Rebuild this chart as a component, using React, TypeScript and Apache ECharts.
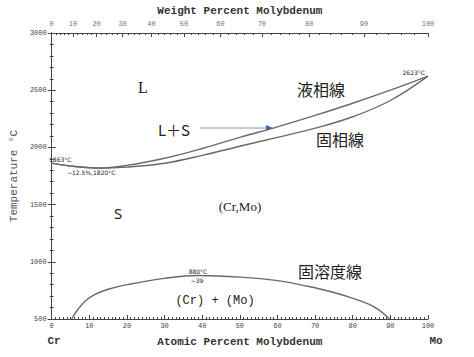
import React, { useEffect, useRef } from "react";
import * as echarts from "echarts";

// Atomic percent Mo vs temperature (°C)
const liquidus: [number, number][] = [
  [0, 1863], [5, 1838], [10, 1823], [12.5, 1820], [20, 1843], [30, 1905],
  [40, 1990], [50, 2088], [60, 2180], [70, 2280], [80, 2386], [90, 2500], [100, 2623],
];
const solidus: [number, number][] = [
  [0, 1863], [5, 1836], [10, 1822], [12.5, 1819], [20, 1828], [30, 1862],
  [40, 1930], [50, 2010], [60, 2088], [70, 2168], [80, 2268], [90, 2410], [100, 2623],
];
const solvus: [number, number][] = [
  [5.3, 500], [7, 585], [9, 660], [11.4, 713], [15, 760], [20, 800], [30, 855],
  [39, 880], [50, 866], [60, 835], [68, 786], [75, 732], [81, 670], [86, 600], [89.8, 500],
];

const weightTicks = [0, 10, 20, 30, 40, 50, 60, 70, 80, 90, 100];
const atomicTicks = [0, 10, 20, 30, 40, 50, 60, 70, 80, 90, 100];
const tempTicks = [500, 1000, 1500, 2000, 2500, 3000];

const M_MO = 95.95;
const M_CR = 52.0;
const wtToAt = (w: number) => {
  if (w <= 0) return 0;
  if (w >= 100) return 100;
  const mo = w / M_MO;
  const cr = (100 - w) / M_CR;
  return (mo / (mo + cr)) * 100;
};

export default function App() {
  const ref = useRef<HTMLDivElement>(null);
  useEffect(() => {
    if (!ref.current) return;
    const chart = echarts.init(ref.current, undefined, { renderer: "svg" });
    const topPos = weightTicks.map(wtToAt);
    const minorWt: number[] = [];
    for (let w = 0; w <= 100; w += 2) minorWt.push(w);
    const minorPos = minorWt.map(wtToAt);
    const axisColor = "#444";
    const mono = "Liberation Mono";
    const tickLabel = { color: "#444", fontSize: 7, fontFamily: mono };
    const nameStyle = { color: "#333", fontSize: 11, fontFamily: mono, fontWeight: "bold" };
    const lineStyle = { color: "#6a6a6a", width: 1.4 };
    const txt = (x: number, y: number, text: string, font: string, size: number, align = "center", weight = "normal", fill = "#222") => ({
      type: "text",
      x,
      y,
      style: { text, fontFamily: font, fontSize: size, fontWeight: weight, fill, align, verticalAlign: "middle" },
    });
    chart.setOption({
      animation: false,
      backgroundColor: "#fff",
      grid: { left: 47, right: 46, top: 33, bottom: 38 },
      xAxis: [
        {
          type: "value", min: 0, max: 100, interval: 10, position: "bottom",
          name: "Atomic Percent Molybdenum", nameLocation: "middle", nameGap: 17, nameTextStyle: nameStyle,
          axisLine: { show: true, lineStyle: { color: axisColor, width: 1 } },
          axisTick: { show: true, inside: true, length: 4, lineStyle: { color: axisColor } },
          minorTick: { show: true, splitNumber: 10, length: 2, lineStyle: { color: axisColor } },
          axisLabel: { ...tickLabel, margin: 3, formatter: (v: number) => (atomicTicks.includes(v) ? String(v) : "") },
          splitLine: { show: false },
        },
        {
          type: "value", min: 0, max: 100, position: "top",
          name: "Weight Percent Molybdenum", nameLocation: "middle", nameGap: 17, nameTextStyle: nameStyle,
          axisLine: { show: true, lineStyle: { color: axisColor, width: 1 } },
          axisTick: { show: true, inside: true, length: 4, customValues: topPos, lineStyle: { color: axisColor } },
          axisLabel: { show: false },
          splitLine: { show: false },
        },
        {
          type: "value", min: 0, max: 100, position: "top",
          axisLine: { show: false },
          axisTick: { show: true, inside: true, length: 2, customValues: minorPos, lineStyle: { color: axisColor } },
          axisLabel: { show: false },
          splitLine: { show: false },
        },
      ],
      yAxis: [
        {
          type: "value", min: 500, max: 3000, interval: 500, position: "left",
          name: "Temperature °C", nameLocation: "middle", nameGap: 31,
          nameTextStyle: { color: "#555", fontSize: 11, fontFamily: mono },
          axisLine: { show: true, lineStyle: { color: axisColor, width: 1 } },
          axisTick: { show: true, inside: true, length: 4, lineStyle: { color: axisColor } },
          minorTick: { show: true, splitNumber: 5, length: 2, lineStyle: { color: axisColor } },
          axisLabel: { ...tickLabel, margin: 5, formatter: (v: number) => (tempTicks.includes(v) ? String(v) : "") },
          splitLine: { show: false },
        },
        {
          type: "value", min: 500, max: 3000, interval: 500, position: "right",
          axisLine: { show: true, lineStyle: { color: axisColor, width: 1 } },
          axisTick: { show: true, inside: true, length: 4, lineStyle: { color: axisColor } },
          minorTick: { show: true, splitNumber: 5, length: 2, lineStyle: { color: axisColor } },
          axisLabel: { show: false },
          splitLine: { show: false },
        },
      ],
      series: [
        { name: "液相線", type: "line", data: liquidus, smooth: 0.4, showSymbol: false, lineStyle, silent: true },
        { name: "固相線", type: "line", data: solidus, smooth: 0.4, showSymbol: false, lineStyle, silent: true },
        { name: "固溶度線", type: "line", data: solvus, smooth: 0.4, showSymbol: false, lineStyle, silent: true },
        {
          name: "Weight Percent ticks", type: "scatter", silent: true, symbolSize: 0.1,
          itemStyle: { color: "transparent" },
          data: weightTicks.map((w) => [wtToAt(w), 3000, w]),
          labelLayout: { hideOverlap: false },
          label: {
            show: true, position: "top", distance: 5, ...tickLabel,
            formatter: (p: any) => String(p.value[2]),
          },
        },
      ],
      graphic: [
        txt(54, 341, "Cr", mono, 11, "center", "bold", "#333"),
        txt(436, 341, "Mo", mono, 11, "center", "bold", "#333"),
        txt(143, 87, "L", "Liberation Serif", 16),
        txt(174, 129, "L＋S", "Noto Sans CJK JP", 15),
        txt(321, 89, "液相線", "Noto Sans CJK JP", 16),
        txt(340, 139, "固相線", "Noto Sans CJK JP", 16),
        txt(330, 271, "固溶度線", "Noto Sans CJK JP", 16),
        txt(118, 213, "S", "Noto Sans", 15),
        txt(240, 206, "(Cr,Mo)", "Liberation Serif", 13),
        txt(215, 301, "(Cr) + (Mo)", mono, 12),
        txt(49, 159, "1863°C", "DejaVu Sans", 6, "left"),
        txt(67, 172, "~12.5%,1820°C", "DejaVu Sans", 6, "left"),
        txt(425, 72, "2623°C", "DejaVu Sans", 6, "right"),
        txt(198, 271, "880°C", "DejaVu Sans", 6),
        txt(197, 280, "~39", "DejaVu Sans", 6),
        { type: "line", shape: { x1: 200, y1: 128, x2: 268, y2: 128 }, style: { stroke: "#7b97c8", lineWidth: 1 } },
        { type: "polygon", shape: { points: [[273, 128], [266, 125], [266, 131]] }, style: { fill: "#3d62b0" } },
      ],
    });
    return () => chart.dispose();
  }, []);
  return <div ref={ref} style={{ position: "fixed", left: 0, top: 0, width: 474, height: 357 }} />;
}
